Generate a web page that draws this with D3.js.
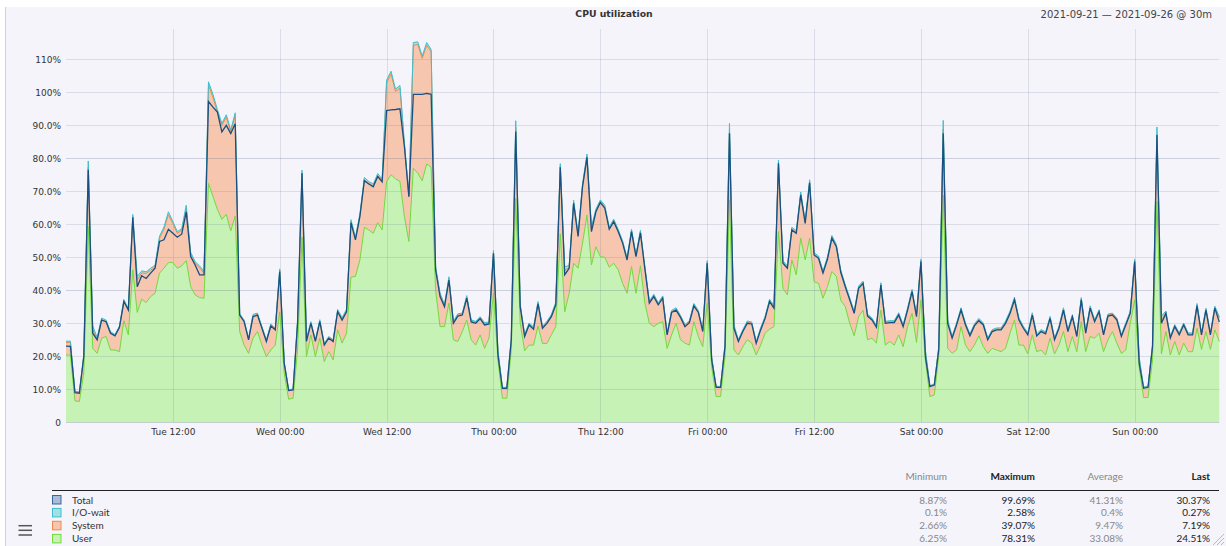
<!DOCTYPE html>
<html>
<head>
<meta charset="utf-8">
<script src="https://cdn.jsdelivr.net/npm/d3@7"></script>
<style>
  body { margin: 0; background: #fff; }
  svg { display: block; }
</style>
</head>
<body>
<div id="chart"></div>
<script>
// values in percent, one point every 30 minutes from Tue 2021-09-21 00:00
const total = [
  23.1, 23.0, 9.0, 8.8, 20.0, 76.5, 27.0, 25.0, 31.0, 30.5,
  27.0, 26.2, 28.7, 36.6, 34.0, 62.1, 41.1, 44.4, 43.6, 45.2,
  46.7, 54.8, 55.3, 58.5, 57.3, 56.1, 57.1, 63.8, 50.2, 47.7,
  44.7, 44.7, 97.2, 95.5, 94.0, 88.0, 90.0, 87.5, 90.5, 32.5,
  30.5, 25.0, 32.0, 32.5, 28.5, 24.5, 29.2, 28.0, 45.7, 17.9,
  9.6, 9.8, 30.0, 75.5, 24.5, 30.0, 24.5, 30.5, 23.4, 25.5,
  24.5, 33.5, 31.0, 33.5, 60.5, 55.3, 62.3, 73.2, 72.2, 71.4,
  74.5, 72.9, 94.5, 94.7, 94.8, 95.0, 83.5, 68.4, 99.4, 99.4,
  99.4, 99.7, 99.4, 46.2, 38.1, 35.0, 43.1, 30.0, 32.2, 32.5,
  37.6, 30.4, 30.0, 31.4, 29.5, 29.8, 51.2, 20.4, 10.3, 10.3,
  25.0, 88.1, 35.0, 26.0, 29.5, 28.2, 35.9, 28.5, 30.0, 32.0,
  35.6, 77.3, 44.7, 46.7, 66.4, 56.3, 71.4, 80.3, 57.8, 63.8,
  66.6, 64.9, 58.5, 60.8, 57.8, 54.3, 49.2, 57.8, 50.2, 57.4,
  46.5, 36.1, 38.1, 35.6, 37.6, 26.5, 33.3, 34.0, 31.8, 29.0,
  30.2, 35.3, 33.3, 27.5, 48.2, 18.9, 10.6, 10.6, 23.0, 87.6,
  28.5, 24.5, 27.5, 30.0, 29.8, 23.9, 28.0, 31.5, 36.6, 34.6,
  78.5, 48.2, 46.7, 58.3, 57.3, 68.9, 60.3, 72.6, 50.7, 49.7,
  45.2, 49.4, 55.8, 53.2, 45.4, 41.1, 37.1, 33.0, 40.6, 42.1,
  32.2, 31.0, 28.8, 41.6, 30.0, 30.2, 30.2, 32.5, 29.0, 34.0,
  39.6, 32.0, 48.7, 19.9, 10.8, 11.3, 22.0, 87.6, 30.0, 25.5,
  29.5, 34.0, 29.5, 26.2, 29.2, 30.8, 29.5, 25.0, 27.5, 28.0,
  28.0, 30.0, 33.0, 37.1, 31.0, 28.5, 26.5, 32.5, 26.2, 27.5,
  26.8, 31.5, 25.0, 28.5, 34.0, 27.5, 32.0, 26.0, 37.1, 27.0,
  34.6, 30.5, 33.5, 26.5, 32.2, 32.5, 31.0, 26.0, 29.5, 33.0,
  48.7, 17.9, 10.3, 10.6, 22.9, 87.1, 30.0, 33.0, 25.5, 29.0,
  26.5, 29.5, 26.5, 26.5, 35.3, 26.5, 34.0, 26.5, 34.6, 30.4
]

const user = [
  20.4, 20.4, 6.5, 6.3, 15.0, 59.3, 22.4, 20.9, 25.5, 26.0,
  21.9, 21.9, 21.4, 30.8, 26.5, 46.2, 33.3, 37.3, 36.3, 38.1,
  39.1, 45.2, 46.7, 48.4, 48.4, 46.7, 47.4, 49.0, 41.1, 38.6,
  37.8, 37.6, 72.4, 68.5, 64.5, 61.5, 63.0, 58.0, 62.5, 27.5,
  23.4, 20.9, 25.5, 27.5, 23.4, 19.9, 21.9, 23.4, 33.5, 14.9,
  7.0, 7.3, 22.0, 56.1, 19.9, 26.5, 19.9, 25.5, 18.4, 21.4,
  18.9, 28.0, 24.0, 27.0, 44.0, 44.2, 49.2, 59.1, 58.3, 57.3,
  60.5, 58.3, 73.0, 75.0, 73.8, 73.0, 62.3, 54.8, 77.0, 75.5,
  73.2, 78.3, 77.3, 40.1, 29.0, 29.0, 36.1, 25.0, 24.5, 27.5,
  31.0, 25.0, 23.4, 26.5, 22.4, 25.5, 39.1, 18.9, 7.3, 7.3,
  22.0, 67.9, 30.0, 21.7, 23.4, 23.4, 29.2, 23.9, 23.9, 26.5,
  29.0, 57.1, 33.5, 39.1, 48.2, 46.7, 54.3, 62.8, 47.7, 53.2,
  50.2, 50.0, 47.0, 48.2, 46.2, 42.1, 39.1, 47.2, 39.1, 47.4,
  36.1, 30.0, 29.0, 30.0, 30.5, 22.4, 26.5, 30.0, 25.0, 24.0,
  23.4, 30.5, 26.0, 22.9, 36.1, 16.9, 7.8, 7.8, 20.0, 67.4,
  21.9, 20.4, 22.9, 25.0, 24.0, 20.4, 23.4, 27.0, 28.2, 29.0,
  57.8, 40.6, 38.6, 49.2, 44.7, 55.8, 49.2, 55.8, 42.6, 42.1,
  37.6, 41.1, 45.7, 44.2, 36.9, 35.1, 30.0, 26.2, 32.0, 34.0,
  25.0, 25.5, 24.0, 34.0, 23.4, 24.5, 23.4, 26.5, 22.9, 29.0,
  33.0, 24.2, 37.1, 18.9, 7.8, 8.3, 20.0, 68.9, 22.4, 20.9,
  21.9, 29.0, 23.4, 21.4, 23.4, 26.2, 22.9, 20.9, 22.4, 21.9,
  21.4, 22.4, 27.0, 31.0, 23.4, 23.4, 20.7, 26.5, 21.4, 21.9,
  20.4, 25.5, 20.7, 23.4, 27.5, 21.4, 26.0, 21.4, 30.5, 21.4,
  26.0, 25.5, 27.0, 21.4, 25.0, 27.5, 24.0, 20.9, 21.9, 30.0,
  37.1, 16.9, 7.5, 7.5, 18.9, 66.9, 20.7, 27.5, 20.4, 24.5,
  20.4, 24.0, 21.4, 21.4, 28.5, 22.1, 27.5, 22.1, 28.0, 24.5
]

const system = [
  3.8, 3.8, 2.7, 2.7, 5.0, 18.0, 5.6, 4.3, 5.6, 4.6,
  5.2, 4.4, 7.4, 5.9, 7.6, 16.0, 9.8, 8.0, 8.8, 8.0,
  8.0, 10.6, 11.8, 14.5, 11.8, 10.6, 10.8, 16.0, 9.8, 9.6,
  9.0, 7.5, 29.8, 30.0, 29.5, 28.5, 29.5, 30.0, 30.5, 5.0,
  7.2, 4.3, 6.8, 5.2, 5.3, 4.8, 7.5, 4.8, 12.5, 3.2,
  2.8, 2.7, 8.2, 19.5, 5.0, 3.7, 4.8, 5.2, 5.2, 4.3,
  5.8, 5.8, 7.3, 6.8, 16.8, 11.4, 13.4, 14.4, 14.2, 14.4,
  14.3, 14.9, 29.8, 30.6, 26.5, 28.3, 21.8, 13.6, 37.2, 39.0,
  37.1, 36.0, 35.0, 6.6, 9.8, 6.3, 7.5, 5.3, 8.0, 5.3,
  7.0, 5.7, 6.9, 5.2, 7.4, 4.6, 12.5, 2.7, 3.2, 3.2,
  3.2, 21.5, 5.3, 4.6, 6.4, 5.1, 7.0, 4.9, 6.4, 5.8,
  7.0, 20.5, 12.5, 7.9, 18.5, 9.9, 17.4, 17.8, 11.0, 10.9,
  16.7, 15.2, 11.8, 12.9, 11.9, 12.5, 10.4, 10.9, 11.4, 10.3,
  10.7, 6.4, 9.4, 5.9, 7.4, 4.4, 7.1, 4.3, 7.1, 5.3,
  7.1, 5.1, 7.6, 4.9, 12.4, 2.7, 3.0, 3.0, 3.3, 21.0,
  7.0, 4.4, 4.9, 5.3, 6.1, 3.8, 4.9, 4.8, 8.7, 5.9,
  21.0, 7.9, 8.4, 9.4, 12.9, 13.4, 11.4, 17.1, 8.4, 7.9,
  7.9, 8.6, 10.4, 9.3, 8.8, 6.3, 7.4, 7.1, 8.9, 8.4,
  7.5, 5.8, 5.1, 7.9, 6.9, 6.0, 7.1, 6.3, 6.4, 5.3,
  6.9, 8.1, 11.9, 2.7, 3.2, 3.2, 2.7, 20.0, 8.0, 4.9,
  7.9, 5.3, 6.4, 5.1, 6.1, 4.9, 6.9, 4.4, 5.4, 6.4,
  6.9, 7.9, 6.3, 6.4, 7.9, 5.4, 6.1, 6.3, 5.1, 5.9,
  6.7, 6.3, 4.6, 5.4, 6.8, 6.4, 6.3, 4.9, 6.9, 5.9,
  8.9, 5.3, 6.8, 5.4, 7.5, 5.3, 7.3, 5.4, 7.9, 3.3,
  11.9, 2.7, 3.1, 3.4, 4.3, 20.5, 10.0, 5.8, 5.4, 4.8,
  6.4, 5.8, 5.4, 5.4, 7.1, 4.7, 6.8, 4.7, 6.9, 7.2
]

const ioWait = [
  0.4, 0.4, 0.2, 0.2, 0.3, 1.9, 1.2, 0.5, 0.5, 0.4,
  0.4, 0.3, 0.4, 0.5, 0.4, 0.8, 1.1, 0.6, 0.5, 0.6,
  0.5, 0.6, 0.7, 0.9, 0.6, 0.5, 0.5, 0.8, 0.6, 0.5,
  0.6, 0.7, 1.0, 0.9, 0.8, 0.6, 0.7, 0.6, 0.8, 0.4,
  0.4, 0.3, 0.4, 0.4, 0.3, 0.3, 0.4, 0.3, 0.5, 0.2,
  0.1, 0.1, 0.3, 0.8, 0.5, 0.3, 0.3, 0.4, 0.3, 0.3,
  0.3, 0.4, 0.4, 0.5, 0.6, 0.5, 0.6, 0.7, 0.5, 0.5,
  0.6, 0.5, 0.9, 0.8, 0.7, 0.8, 0.6, 0.5, 0.9, 0.8,
  0.7, 0.8, 0.7, 0.5, 0.4, 0.4, 0.5, 0.3, 0.4, 0.3,
  0.4, 0.3, 0.3, 0.3, 0.4, 0.3, 0.5, 0.2, 0.1, 0.1,
  0.3, 2.0, 0.6, 0.4, 0.3, 0.4, 0.4, 0.3, 0.3, 0.4,
  0.4, 0.8, 1.2, 0.5, 0.6, 0.5, 0.6, 0.7, 0.6, 0.5,
  0.5, 0.6, 0.4, 0.5, 0.4, 0.4, 0.5, 0.4, 0.4, 0.5,
  0.4, 0.3, 0.4, 0.3, 0.4, 0.3, 0.3, 0.4, 0.3, 0.3,
  0.3, 0.4, 0.3, 0.3, 0.5, 0.2, 0.1, 0.1, 0.3, 2.2,
  0.6, 0.3, 0.3, 0.4, 0.3, 0.3, 0.4, 0.3, 0.4, 0.4,
  0.7, 0.5, 0.4, 0.5, 0.5, 0.6, 0.5, 0.6, 0.4, 0.4,
  0.4, 0.4, 0.5, 0.4, 0.4, 0.3, 0.4, 0.3, 0.4, 0.4,
  0.3, 0.3, 0.3, 0.4, 0.3, 0.3, 0.3, 0.4, 0.3, 0.4,
  0.4, 0.3, 0.5, 0.2, 0.1, 0.1, 0.3, 2.6, 0.6, 0.3,
  0.3, 0.4, 0.3, 0.3, 0.3, 0.4, 0.3, 0.3, 0.3, 0.3,
  0.3, 0.4, 0.4, 0.5, 0.3, 0.3, 0.3, 0.4, 0.3, 0.3,
  0.3, 0.3, 0.3, 0.3, 0.4, 0.3, 0.3, 0.3, 0.4, 0.3,
  0.4, 0.3, 0.3, 0.3, 0.3, 0.3, 0.3, 0.3, 0.3, 0.4,
  0.5, 0.2, 0.1, 0.1, 0.3, 2.1, 1.5, 0.4, 0.3, 0.3,
  0.3, 0.3, 0.3, 0.3, 0.4, 0.3, 0.3, 0.3, 0.3, 0.3
]

const yTicks = [0, 10, 20, 30, 40, 50, 60, 70, 80, 90, 100, 110]
const yTickLabels = ['0', '10.0%', '20.0%', '30.0%', '40.0%', '50.0%', '60.0%', '70.0%', '80.0%', '90.0%', '100%', '110%']

// legend table
const legendNames = ['Total', 'I/O-wait', 'System', 'User']
const legendHeaders = ['Minimum', 'Maximum', 'Average', 'Last']
const legendMin = ['8.87%', '0.1%', '2.66%', '6.25%']
const legendMax = ['99.69%', '2.58%', '39.07%', '78.31%']
const legendAvg = ['41.31%', '0.4%', '9.47%', '33.08%']
const legendLast = ['30.37%', '0.27%', '7.19%', '24.51%']

const title = 'CPU utilization'
const rangeText = '2021-09-21 \u2014 2021-09-26 @ 30m'

const W = 1226
const H = 546
const margin = { top: 29, left: 66, right: 7, bottom: 124 }

const colors = {
  user: { fill: '#c6f2b5', line: '#74d83f' },
  system: { fill: '#f6c7ae', line: '#f0894e' },
  iowait: { fill: '#a4dfe6', line: '#3cc0cb' },
  total: { fill: '#a9bcd8', line: '#1b4f80' }
}
const legendColors = [colors.total, colors.iowait, colors.system, colors.user]

const svg = d3.select('#chart')
  .append('svg')
  .attr('width', W)
  .attr('height', H)

// panel background
svg.append('rect')
  .attr('x', 5).attr('y', 7)
  .attr('width', W - 5).attr('height', H - 7)
  .attr('fill', '#f4f4fa')
svg.append('line')
  .attr('x1', 5.5).attr('x2', 5.5)
  .attr('y1', 7).attr('y2', H)
  .attr('stroke', '#cfd0d8')

const start = new Date(2021, 8, 21, 0, 0)
const times = total.map((d, i) => new Date(+start + i * 30 * 60 * 1000))

const x = d3.scaleTime()
  .domain([times[0], times[times.length - 1]])
  .range([66, 1219.3])

const y = d3.scaleLinear()
  .domain([0, 119.2])
  .range([422.3, 29])

const rows = times.map((t, i) => ({ t: t, user: user[i], system: system[i], iowait: ioWait[i] }))
const keys = ['user', 'system', 'iowait']
const series = d3.stack().keys(keys)(rows)

const area = d3.area()
  .x(d => x(d.data.t))
  .y0(d => y(d[0]))
  .y1(d => y(d[1]))

const topLine = d3.line()
  .x(d => x(d.data.t))
  .y(d => y(d[1]))

svg.append('g')
  .selectAll('path')
  .data(series)
  .enter()
  .append('path')
  .attr('d', area)
  .attr('fill', d => colors[d.key].fill)

// grid on top of the fills, faint
const xTicks = x.ticks(d3.timeHour.every(12)).filter(d => +d > +times[0])
const grid = svg.append('g')
grid.selectAll('.hgrid')
  .data(yTicks)
  .enter()
  .append('line')
  .attr('x1', 66).attr('x2', 1219.3)
  .attr('y1', d => Math.round(y(d)) + 0.5)
  .attr('y2', d => Math.round(y(d)) + 0.5)
  .attr('stroke', '#5a6688')
  .attr('stroke-opacity', d => d % 40 === 0 ? 0.26 : 0.16)
grid.selectAll('.vgrid')
  .data(xTicks)
  .enter()
  .append('line')
  .attr('x1', d => Math.round(x(d)) + 0.5)
  .attr('x2', d => Math.round(x(d)) + 0.5)
  .attr('y1', 29).attr('y2', 422)
  .attr('stroke', '#5a6688')
  .attr('stroke-opacity', 0.16)

svg.append('g')
  .selectAll('path')
  .data(series)
  .enter()
  .append('path')
  .attr('d', topLine)
  .attr('fill', 'none')
  .attr('stroke', d => colors[d.key].line)
  .attr('stroke-width', 1)

const totalLine = d3.line()
  .x((d, i) => x(times[i]))
  .y(d => y(d))

svg.append('path')
  .datum(total)
  .attr('d', totalLine)
  .attr('fill', 'none')
  .attr('stroke', colors.total.line)
  .attr('stroke-width', 1.3)

// axes
const yAxis = d3.axisLeft(y)
  .tickValues(yTicks)
  .tickFormat((d, i) => yTickLabels[i])
  .tickSize(0)
  .tickPadding(5)

svg.append('g')
  .attr('transform', 'translate(66,0)')
  .call(yAxis)
  .call(g => g.select('.domain').remove())
  .selectAll('text')
  .attr('font-family', 'DejaVu Sans')
  .attr('font-size', 9)
  .attr('fill', '#333')

const xAxis = d3.axisBottom(x)
  .tickValues(xTicks)
  .tickFormat(d3.timeFormat('%a %H:%M'))
  .tickSize(0)
  .tickPadding(6)

svg.append('g')
  .attr('transform', 'translate(0,422.3)')
  .call(xAxis)
  .call(g => g.select('.domain').remove())
  .selectAll('text')
  .attr('font-family', 'DejaVu Sans')
  .attr('font-size', 9)
  .attr('fill', '#333')

// title and range
svg.append('text')
  .attr('x', 614).attr('y', 17)
  .attr('text-anchor', 'middle')
  .attr('font-family', 'DejaVu Sans')
  .attr('font-weight', 'bold')
  .attr('font-size', 9.3)
  .attr('fill', '#333')
  .text(title)

svg.append('text')
  .attr('x', 1212).attr('y', 18)
  .attr('text-anchor', 'end')
  .attr('font-family', 'DejaVu Sans')
  .attr('font-size', 10)
  .attr('fill', '#444')
  .text(rangeText)

// legend
const lg = svg.append('g').attr('font-family', 'Lato').attr('font-size', 10)
const colRight = [947, 1035, 1123, 1210]
const colData = [legendMin, legendMax, legendAvg, legendLast]
const colBold = [false, true, false, true]

lg.selectAll('.hdr')
  .data(legendHeaders)
  .enter()
  .append('text')
  .attr('x', (d, i) => colRight[i])
  .attr('y', 479.5)
  .attr('text-anchor', 'end')
  .attr('font-weight', (d, i) => colBold[i] ? 'bold' : 'normal')
  .attr('fill', (d, i) => colBold[i] ? '#222' : '#888')
  .text(d => d)

lg.append('line')
  .attr('x1', 52).attr('x2', 1219)
  .attr('y1', 490.5).attr('y2', 490.5)
  .attr('stroke', '#222')

const rowY = [500, 512.9, 525.8, 538.9]

lg.selectAll('.sw')
  .data(legendNames)
  .enter()
  .append('rect')
  .attr('x', 52.5)
  .attr('y', (d, i) => rowY[i] - 4.5)
  .attr('width', 8.5).attr('height', 8.5)
  .attr('fill', (d, i) => legendColors[i].fill)
  .attr('stroke', (d, i) => i === 0 ? '#3a669c' : legendColors[i].line)

lg.selectAll('.name')
  .data(legendNames)
  .enter()
  .append('text')
  .attr('x', 72)
  .attr('y', (d, i) => rowY[i] + 3.5)
  .attr('fill', '#333')
  .text(d => d)

colData.forEach((col, c) => {
  lg.selectAll('.v' + c)
    .data(col)
    .enter()
    .append('text')
    .attr('x', colRight[c])
    .attr('y', (d, i) => rowY[i] + 3.5)
    .attr('text-anchor', 'end')
    .attr('fill', colBold[c] ? '#222' : '#888')
    .text(d => d)
})

// menu icon
svg.append('g')
  .selectAll('line')
  .data([525.7, 530.3, 535])
  .enter()
  .append('line')
  .attr('x1', 18.5).attr('x2', 32)
  .attr('y1', d => d).attr('y2', d => d)
  .attr('stroke', '#555')
  .attr('stroke-width', 1.5)

// resize grip
svg.append('g')
  .selectAll('line')
  .data([0, 4, 8])
  .enter()
  .append('line')
  .attr('x1', d => 1213 + d).attr('y1', 545)
  .attr('x2', 1224).attr('y2', d => 534 + d)
  .attr('stroke', '#aaa')
  .attr('stroke-width', 0.8)
</script>
</body>
</html>
